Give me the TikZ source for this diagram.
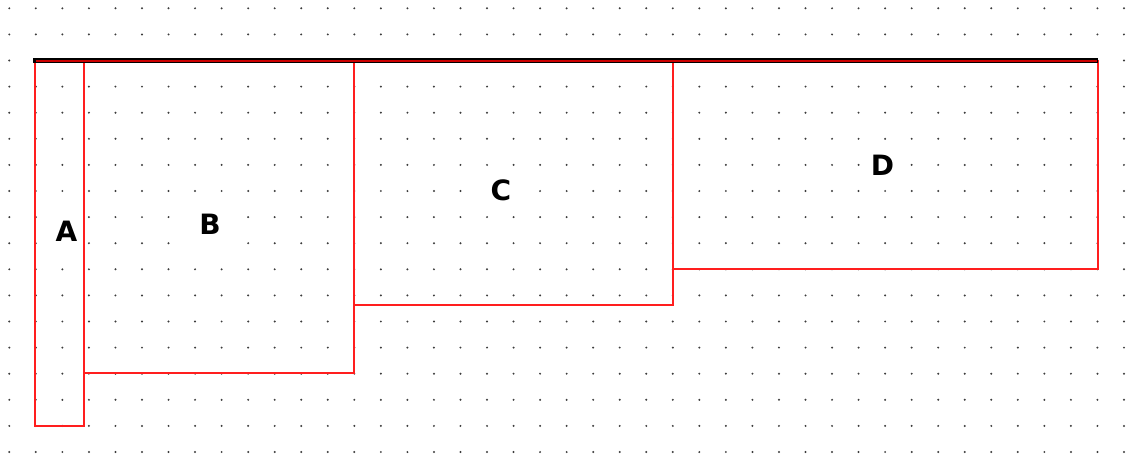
\documentclass[tikz,border=0pt]{standalone}
\usepackage{fontspec}
\setmainfont{DejaVu Sans}
\usetikzlibrary{positioning}
\definecolor{dotgray}{RGB}{60,60,60}
\definecolor{boxred}{RGB}{255,30,30}
\tikzset{
  box/.style={draw=boxred,line width=2pt},
  lbl/.style={font=\fontsize{28}{28}\selectfont\bfseries,inner sep=1pt,fill=white},
  lblbg/.style={lbl,minimum width=44pt,minimum height=42pt}
}

\begin{document}
\begin{tikzpicture}[x=1pt,y=-1pt]
  \useasboundingbox[fill=white] (0,0) rectangle (1130,456);
  % dot grid
  \foreach \i in {0,...,42}
    \foreach \j in {0,...,17}
      \fill[dotgray] (9.3+\i*26.54,8.3+\j*26.1) circle (1.1pt);
  % labels
  \node[lblbg,minimum width=30pt] (A) at (66.5,231) {A};
  \node[lblbg] (B) at (210,224) {B};
  \node[lblbg] (C) at (501,190.3) {C};
  \node[lbl] (D) at (882.5,165.5) {D};
  % regions
  \draw[box] (35,61) rectangle (83.7,426);
  \draw[box] (83.7,61) rectangle (354,373.3);
  \draw[box] (354,61) rectangle (673.3,304.5);
  \draw[box] (673.3,61) rectangle (1098,269.3);
  % top edge
  \draw[line width=5pt,black] (33.3,60.8) -- (1098.3,60.8);
  \draw[line width=2pt,red!80!black] (35.5,60.8) -- (1096.5,60.8);
\end{tikzpicture}
\end{document}
